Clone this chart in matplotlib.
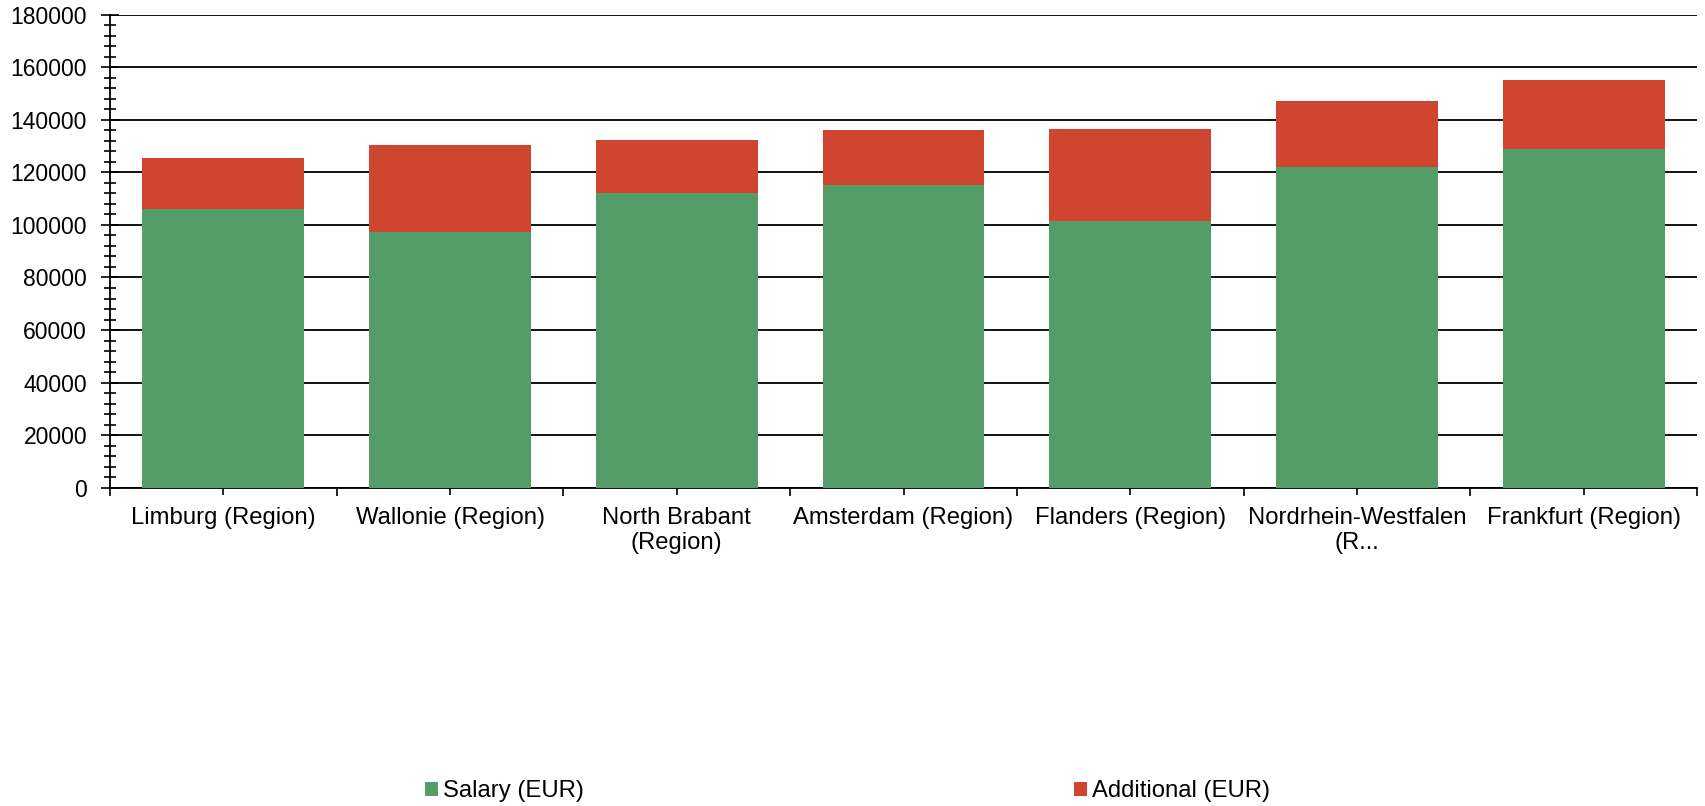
import matplotlib
matplotlib.use("Agg")
import matplotlib.pyplot as plt
from matplotlib.ticker import MultipleLocator, FixedLocator
import numpy as np

plt.rcParams['font.family'] = ['Liberation Sans', 'DejaVu Sans']

regions = ["Limburg (Region)", "Wallonie (Region)", "North Brabant\n(Region)",
           "Amsterdam (Region)", "Flanders (Region)", "Nordrhein-Westfalen\n(R...",
           "Frankfurt (Region)"]
salary = [106200, 97300, 112100, 115100, 101400, 122000, 128800]
additional = [19300, 33100, 20300, 20900, 35000, 25200, 26400]

green = "#559D68"
red = "#D04530"

fig = plt.figure(figsize=(17.05, 8.06), dpi=100)
ax = fig.add_axes([110 / 1705, 1 - 487.7 / 806, 1587 / 1705, 473 / 806])

x = np.arange(len(regions))
ax.bar(x, salary, width=0.714, color=green, label="Salary (EUR)", zorder=3)
ax.bar(x, additional, width=0.714, bottom=salary, color=red,
       label="Additional (EUR)", zorder=3)

ax.set_xlim(-0.5, len(regions) - 0.5)
ax.set_ylim(0, 180000)

# y axis: major every 20000, minor every 4000, ticks crossing the spine
ax.yaxis.set_major_locator(MultipleLocator(20000))
ax.yaxis.set_minor_locator(MultipleLocator(4000))
ax.tick_params(axis='y', which='major', direction='inout', length=13, width=1.2,
               labelsize=16.5, pad=10)
ax.tick_params(axis='y', which='minor', direction='inout', length=8, width=1.2)
ax.grid(axis='y', which='major', color='black', linewidth=1.3, zorder=0)
ax.set_axisbelow(True)

# x axis: labels at bar centres, separators at category boundaries
ax.set_xticks(x)
ax.set_xticklabels(regions, fontsize=17.2, linespacing=1.15)
ax.xaxis.set_minor_locator(FixedLocator(np.arange(-0.5, len(regions), 1.0)))
ax.tick_params(axis='x', which='major', direction='inout', length=10, width=1.2, pad=9)
ax.tick_params(axis='x', which='minor', direction='out', length=6, width=1.2)

for side in ['top', 'right']:
    ax.spines[side].set_visible(False)
for side in ['left', 'bottom']:
    ax.spines[side].set_linewidth(1.3)

handles, labels = ax.get_legend_handles_labels()
fig.legend(handles, labels, loc='center', bbox_to_anchor=(0.497, 0.018), ncol=2,
           frameon=False, fontsize=17.2, handlelength=0.55, handleheight=0.55,
           handletextpad=0.2, columnspacing=20.5)

fig.savefig("out.png", dpi=100)
